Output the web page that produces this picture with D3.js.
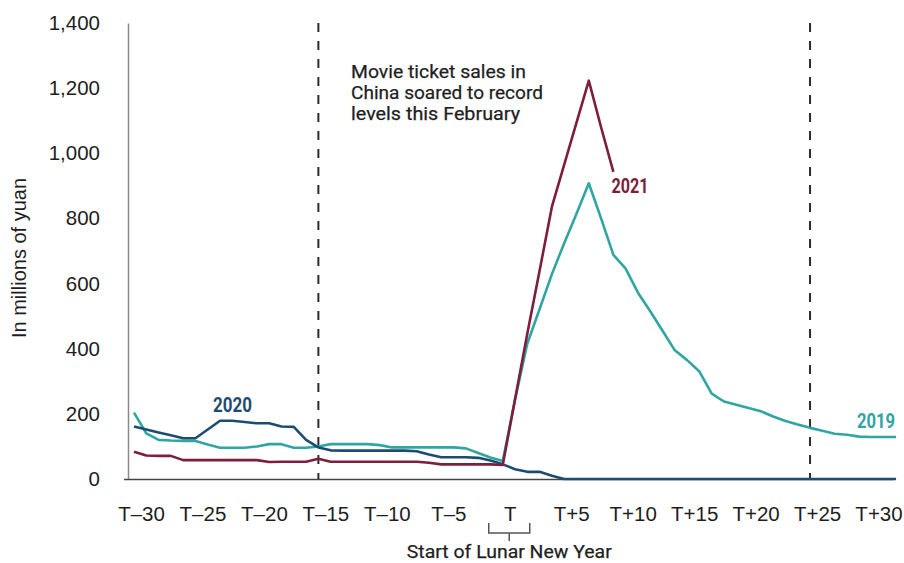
<!DOCTYPE html>
<html>
<head>
<meta charset="utf-8">
<script src="https://cdn.jsdelivr.net/npm/d3@7"></script>
<style>
  html, body { margin: 0; padding: 0; background: #ffffff; }
  svg { display: block; }
  .tick-label { font-family: "Liberation Sans", Arial, sans-serif; font-size: 20.5px; fill: #1e1e1e; }
  .axis-title { font-family: "Liberation Sans", Arial, sans-serif; font-size: 20px; fill: #1e1e1e; }
  .note { font-family: Roboto, "Liberation Sans", sans-serif; font-size: 18px; font-weight: 400; fill: #1f1f1f; stroke: #1f1f1f; stroke-width: 0.25px; }
  .series-label { font-family: Roboto, "Liberation Sans", sans-serif; font-size: 20px; font-weight: 700; }
</style>
</head>
<body>
<svg id="chart" width="904" height="563"></svg>
<script>
// Days relative to the start of the Lunar New Year (T)
const days2019 = d3.range(-30, 33);
const days2020 = d3.range(-30, 33);
const days2021 = d3.range(-30, 10);

// Daily box office, millions of yuan
const sales2019 = [
  204, 140, 120, 118, 117, 117, 106, 96, 96, 96,
  100, 107, 107, 96, 96, 100, 107, 107, 107, 107,
  104, 97, 97, 97, 97, 97, 97, 94, 80, 66,
  55, 243, 416, 522, 629, 724, 814, 908, 800, 688,
  646, 572, 515, 455, 395, 365, 330, 262, 238, 228,
  218, 208, 192, 178, 167, 157, 148, 139, 136, 130,
  129, 129, 129
];
const sales2020 = [
  161, 152, 143, 134, 125, 125, 152, 179, 179, 175,
  171, 171, 161, 160, 120, 97, 88, 87, 87, 87,
  87, 87, 87, 85, 75, 67, 67, 67, 65, 57,
  45, 30, 22, 22, 10, 0, 0, 0, 0, 0,
  0, 0, 0, 0, 0, 0, 0, 0, 0, 0,
  0, 0, 0, 0, 0, 0, 0, 0, 0, 0,
  0, 0, 0
];
const sales2021 = [
  84, 72, 71, 71, 58, 58, 58, 58, 58, 58,
  58, 52, 53, 53, 53, 62, 53, 53, 53, 53,
  53, 53, 53, 53, 50, 45, 45, 45, 45, 45,
  43, 245, 447, 640, 836, 965, 1094, 1223, 1080, 943
];

const yTicks = [0, 200, 400, 600, 800, 1000, 1200, 1400];
const xTicks = [-30, -25, -20, -15, -10, -5, 0, 5, 10, 15, 20, 25, 30];
const markerDays = [-15, 25];
const noteLines = ["Movie ticket sales in", "China soared to record", "levels this February"];

const colors = { y2019: "#30a5a3", y2020: "#1d4c73", y2021: "#7c1e3c" };

const svg = d3.select("#chart");

const x = d3.scaleLinear().domain([-30, 30]).range([134, 871.5]);
const y = d3.scaleLinear().domain([0, 1400]).range([479, 23]);

const fmt = d3.format(",");
const xLabel = d => d === 0 ? "T" : (d < 0 ? "T\u2013" + Math.abs(d) : "T+" + d);

// Axes
const yAxis = d3.axisLeft(y).tickValues(yTicks).tickFormat(fmt).tickSize(0).tickPadding(28);
const gy = svg.append("g").attr("transform", "translate(128,0)").call(yAxis);
gy.select(".domain").attr("stroke", "#8a8a8a").attr("stroke-width", 1.5);
gy.selectAll("text").attr("class", "tick-label").attr("font-size", null).attr("font-family", null).attr("fill", null);

svg.append("line")
  .attr("x1", 124).attr("x2", 894)
  .attr("y1", y(0) + 0.5).attr("y2", y(0) + 0.5)
  .attr("stroke", "#444").attr("stroke-width", 1.6);

const xAxis = d3.axisBottom(x).tickValues(xTicks).tickFormat(xLabel).tickSize(0).tickPadding(27);
const gx = svg.append("g").attr("transform", `translate(7,${y(0)})`).call(xAxis);
gx.select(".domain").remove();
gx.selectAll("text").attr("class", "tick-label").attr("font-size", null).attr("font-family", null).attr("fill", null);

// Y-axis title
svg.append("text")
  .attr("class", "axis-title")
  .attr("transform", "translate(26,258) rotate(-90)")
  .attr("text-anchor", "middle")
  .text("In millions of yuan");

// Dashed markers
svg.selectAll("line.marker")
  .data(markerDays)
  .join("line")
  .attr("class", "marker")
  .attr("x1", d => x(d)).attr("x2", d => x(d))
  .attr("y1", y(1400)).attr("y2", y(0))
  .attr("stroke", "#2b2b2b").attr("stroke-width", 2)
  .attr("stroke-dasharray", "9,9");

// Series lines
const line = d3.line().x(d => x(d[0])).y(d => y(d[1]));
const series = [
  { days: days2019, values: sales2019, color: colors.y2019 },
  { days: days2020, values: sales2020, color: colors.y2020 },
  { days: days2021, values: sales2021, color: colors.y2021 }
];
svg.selectAll("path.series")
  .data(series)
  .join("path")
  .attr("class", "series")
  .attr("fill", "none")
  .attr("stroke", d => d.color)
  .attr("stroke-width", 2.6)
  .attr("stroke-linejoin", "round")
  .attr("d", d => line(d.days.map((t, i) => [t, d.values[i]])));

// Series labels
const labels = [
  { text: "2021", x: 611.5, y: 193, w: 37, color: colors.y2021 },
  { text: "2020", x: 213, y: 412, w: 39, color: colors.y2020 },
  { text: "2019", x: 857, y: 428, w: 38, color: colors.y2019 }
];
svg.selectAll("text.series-label")
  .data(labels)
  .join("text")
  .attr("class", "series-label")
  .attr("x", d => d.x).attr("y", d => d.y)
  .attr("fill", d => d.color)
  .attr("textLength", d => d.w)
  .attr("lengthAdjust", "spacingAndGlyphs")
  .text(d => d.text);

// Annotation
const noteWidths = [175, 192, 169];
svg.selectAll("text.note")
  .data(noteLines)
  .join("text")
  .attr("class", "note")
  .attr("x", 351)
  .attr("y", (d, i) => 78 + i * 20.8)
  .attr("textLength", (d, i) => noteWidths[i])
  .attr("lengthAdjust", "spacingAndGlyphs")
  .text(d => d);

// Bracket under T
const bx0 = x(0) - 14, bx1 = x(0) + 27, bxm = (bx0 + bx1) / 2;
svg.append("path")
  .attr("d", `M${bx0},523 V533 H${bx1} V523 M${bxm},533 V541`)
  .attr("fill", "none")
  .attr("stroke", "#555")
  .attr("stroke-width", 1.5);

svg.append("text")
  .attr("class", "note")
  .attr("x", bxm)
  .attr("y", 558)
  .attr("text-anchor", "middle")
  .attr("font-size", 17)
  .attr("textLength", 205)
  .attr("lengthAdjust", "spacingAndGlyphs")
  .text("Start of Lunar New Year");
</script>
</body>
</html>
